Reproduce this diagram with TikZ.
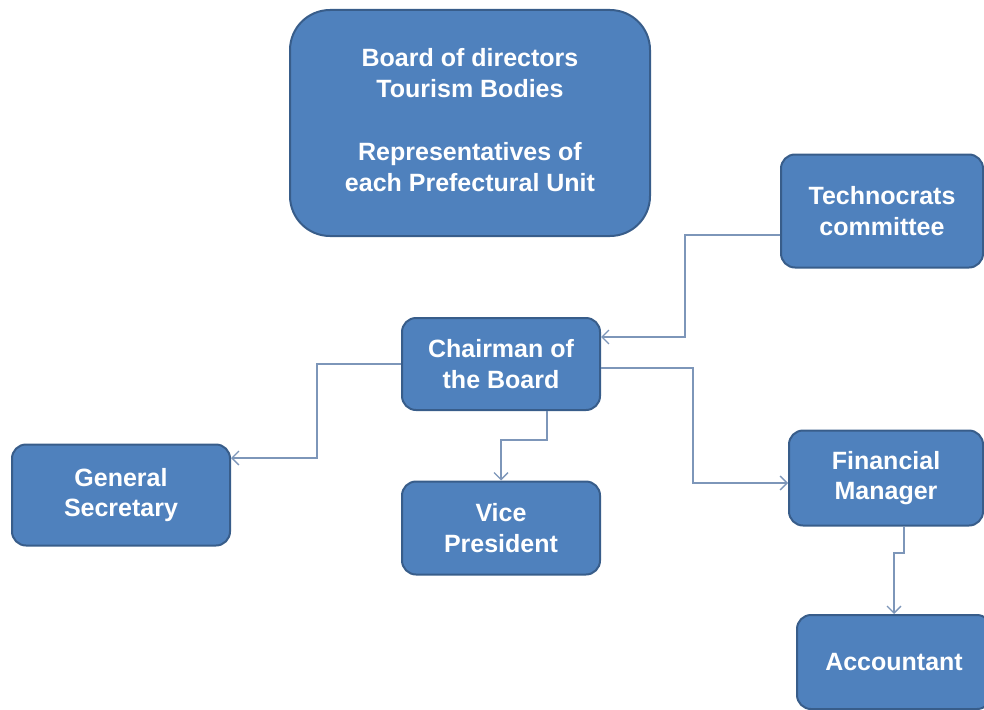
\documentclass[tikz,border=0pt]{standalone}
\usepackage{fontspec}
\setmainfont{Liberation Sans}
\usetikzlibrary{arrows.meta}
\definecolor{boxfill}{RGB}{79,129,189}
\definecolor{boxborder}{RGB}{56,93,138}
\definecolor{linecol}{RGB}{125,150,185}
\tikzset{
  box/.style={draw=boxborder, line width=2pt, fill=boxfill, rounded corners=14pt,
    text=white, font=\bfseries\fontsize{25}{30.5}\selectfont, align=center, inner sep=0pt},
  conn/.style={draw=linecol, line width=1.3pt, -{Straight Barb[length=7pt,width=14pt]}}
}
\begin{document}
\begin{tikzpicture}[x=1pt,y=-1pt]
\useasboundingbox (0,0) rectangle (984,709);
\node[box, rounded corners=40pt, minimum width=360pt, minimum height=226pt] (board) at (470,123)
  {\raisebox{8pt}{\begin{tabular}{@{}c@{}}Board of directors\\Tourism Bodies\\[33pt]Representatives of\\each Prefectural Unit\end{tabular}}};
\node[box, minimum width=202pt, minimum height=113pt] (tech) at (882,211) {Technocrats\\committee};
\node[box, minimum width=198pt, minimum height=92pt] (chair) at (501,364) {Chairman of\\the Board};
\node[box, minimum width=218pt, minimum height=101pt] (gensec) at (121,495) {General\\Secretary};
\node[box, minimum width=198pt, minimum height=93pt] (vice) at (501,528) {Vice\\President};
\node[box, minimum width=194pt, minimum height=95pt] (fin) at (886,478) {Financial\\Manager};
\node[box, minimum width=194pt, minimum height=94pt] (acct) at (894,662) {Accountant};
\coordinate (t1) at (685,337);
\coordinate (g1) at (317,458);
\coordinate (v1) at (547,440);
\coordinate (f1) at (693,368);
\coordinate (f2) at (693,483);
\coordinate (a1) at (904,553);
\draw[conn] ([yshift=-24pt]tech.west) -| (t1) -- (chair.east |- t1);
\draw[conn] (chair.west) -| (g1) -- (gensec.east |- g1);
\draw[conn] (chair.south -| v1) -- (v1) -| (vice.north);
\draw[conn] (chair.east |- f1) -| (f2) -- (fin.west |- f2);
\draw[conn] (fin.south -| a1) -- (a1) -| (acct.north);
\end{tikzpicture}
\end{document}
